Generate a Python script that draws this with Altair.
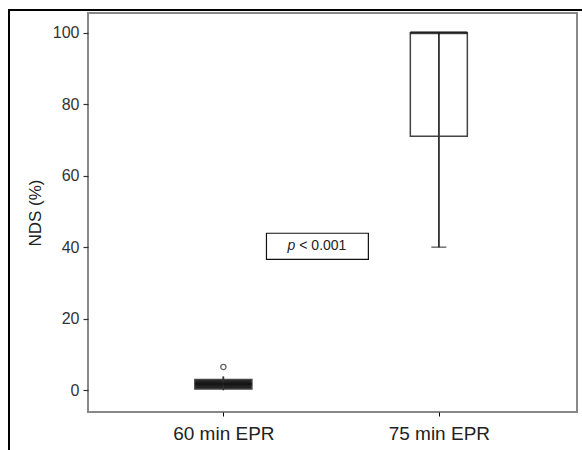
import altair as alt
import pandas as pd

categories = ["60 min EPR", "75 min EPR"]
positions = [1, 2]
q1 = [0.3, 71]
q3 = [3.0, 100]
median = [1.7, 100]
whisker_lo = [0, 40]
whisker_hi = [3.8, 100]
cap_show = [False, True]
outlier_cat = [1]
outlier_val = [6.5]

annot_x = [1.436]
annot_y = [40.3]
annot_box_x = [1.2]
annot_box_x2 = [1.673]
annot_box_y = [36.6]
annot_box_y2 = [43.9]

FONT = "Liberation Sans"

box_df = pd.DataFrame({
    "cat": categories, "pos": positions, "q1": q1, "q3": q3,
    "median": median, "lo": whisker_lo, "hi": whisker_hi, "cap": cap_show,
})
out_df = pd.DataFrame({"pos": outlier_cat, "val": outlier_val})
ann_df = pd.DataFrame({"x": annot_x, "y": annot_y, "bx": annot_box_x, "bx2": annot_box_x2,
                       "by": annot_box_y, "by2": annot_box_y2})

xscale = alt.Scale(domain=[0.395, 2.618], nice=False, zero=False)
yscale = alt.Scale(domain=[-6.1, 105.5], nice=False, zero=False)

label_expr = "datum.value == 1 ? '60 min EPR' : datum.value == 2 ? '75 min EPR' : ''"

xenc = alt.X("pos:Q", scale=xscale,
             axis=alt.Axis(title=None, values=[1, 2], labelExpr=label_expr, grid=False,
                           domain=False, tickColor="#000", tickSize=4, tickWidth=1,
                           labelFont=FONT, labelFontSize=19, labelColor="#222",
                           labelPadding=8))

base = alt.Chart(box_df)

whisk = base.mark_rule(color="#333", strokeWidth=1.5).encode(
    x=xenc,
    y=alt.Y("lo:Q", scale=yscale,
            axis=alt.Axis(title="NDS (%)", values=[0, 20, 40, 60, 80, 100], grid=False,
                          domain=False, tickColor="#333", tickSize=5, tickWidth=1.2,
                          labelFont=FONT, labelFontSize=16, labelColor="#333",
                          labelPadding=4, titleFont=FONT, titleFontSize=17,
                          titleFontWeight="normal", titleColor="#222", titlePadding=8)),
    y2="hi:Q",
)

boxes = base.mark_bar(size=57, stroke="#444", strokeWidth=1.5).encode(
    x="pos:Q", y="q1:Q", y2="q3:Q",
    fill=alt.condition("datum.pos == 1", alt.value("#222"), alt.value("white")),
    fillOpacity=alt.condition("datum.pos == 1", alt.value(1), alt.value(0)),
)

whisk2 = base.mark_rule(color="#333", strokeWidth=1.5).encode(
    x="pos:Q", y="lo:Q", y2="hi:Q")

med = base.mark_tick(orient="horizontal", size=57, thickness=3, color="#111").encode(
    x="pos:Q", y="median:Q")

cap = base.transform_filter("datum.cap").mark_tick(
    orient="horizontal", size=15, thickness=1.5, color="#333").encode(
    x="pos:Q", y="lo:Q")

outl = alt.Chart(out_df).mark_point(shape="circle", size=28, filled=False,
                                    color="#222", strokeWidth=1.3).encode(
    x="pos:Q", y="val:Q")

abox = alt.Chart(ann_df).mark_rect(fill="white", stroke="#111", strokeWidth=1.2).encode(
    x="bx:Q", x2="bx2:Q", y="by:Q", y2="by2:Q")

atext_p = alt.Chart(ann_df).mark_text(text="p", font=FONT, fontSize=14, fontStyle="italic",
                                      align="right", dx=-22, color="#222").encode(
    x="x:Q", y="y:Q")
atext = alt.Chart(ann_df).mark_text(text="< 0.001", font=FONT, fontSize=14,
                                    align="left", dx=-18, color="#222").encode(
    x="x:Q", y="y:Q")

frame = alt.Chart(ann_df).mark_rect(fill=None, stroke="#000", strokeWidth=2, clip=False).encode(
    x=alt.value(-79), x2=alt.value(520), y=alt.value(-3), y2=alt.value(460))

chart = alt.layer(whisk, boxes, whisk2, med, cap, outl, abox, atext_p, atext, frame).properties(
    width=489, height=399,
    autosize=alt.AutoSizeParams(type="none"),
    padding={"left": 88, "top": 13, "right": 5, "bottom": 38},
    background="white",
).configure_view(stroke="#888888", strokeWidth=2)

chart.save("out.html", embed_options={"renderer": "svg", "actions": False})
